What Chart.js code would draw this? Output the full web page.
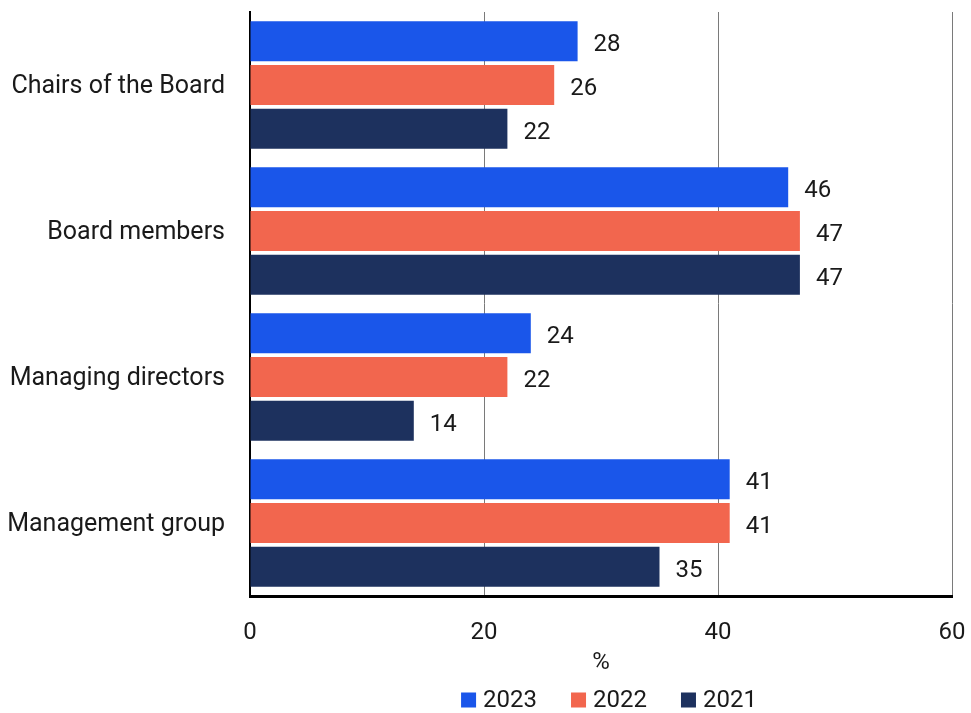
<!DOCTYPE html>
<html>
<head>
<meta charset="utf-8">
<script src="https://cdn.jsdelivr.net/npm/chart.js@4/dist/chart.umd.min.js"></script>
<style>
  html, body { margin: 0; padding: 0; background: #fff; }
  #wrap { width: 971px; height: 713px; }
</style>
</head>
<body>
<div id="wrap"><canvas id="roleChart" width="971" height="713"></canvas></div>
<script>
const categories = ["Chairs of the Board", "Board members", "Managing directors", "Management group"];
const seriesNames = ["2023", "2022", "2021"];
const values2023 = [28, 46, 24, 41];
const values2022 = [26, 47, 22, 41];
const values2021 = [22, 47, 14, 35];
const xTicks = [0, 20, 40, 60];

const colors = ["#1a56ea", "#f2664e", "#1d315e"];
const FONT = "Roboto";
const TEXT = "#1a1a1a";

// value at the end of each bar
const barValues = {
    id: "barValues",
    afterDatasetsDraw(chart) {
        const ctx = chart.ctx;
        ctx.save();
        ctx.font = `24px ${FONT}`;
        ctx.fillStyle = TEXT;
        ctx.textAlign = "left";
        ctx.textBaseline = "middle";
        chart.data.datasets.forEach((ds, i) => {
            chart.getDatasetMeta(i).data.forEach((bar, j) => {
                ctx.fillText(ds.data[j], bar.x + 16, bar.y + 4);
            });
        });
        ctx.restore();
    }
};

// legend row under the axis title
const bottomLegend = {
    id: "bottomLegend",
    afterDraw(chart) {
        const ctx = chart.ctx;
        const area = chart.chartArea;
        ctx.save();
        ctx.font = `24px ${FONT}`;
        ctx.textBaseline = "middle";
        ctx.textAlign = "left";
        const box = 15, gap = 7, spacing = 34;
        const items = chart.data.datasets.map(ds => ({
            text: ds.label, color: ds.backgroundColor, w: ctx.measureText(ds.label).width
        }));
        let total = items.reduce((s, it) => s + box + gap + it.w, 0) + spacing * (items.length - 1);
        let x = (area.left + area.right) / 2 - total / 2 + 8;
        const cy = 700;
        items.forEach(it => {
            ctx.fillStyle = it.color;
            ctx.fillRect(x, cy - box / 2, box, box);
            ctx.fillStyle = TEXT;
            ctx.fillText(it.text, x + box + gap, cy + 1);
            x += box + gap + it.w + spacing;
        });
        ctx.restore();
    }
};

const ctx = document.getElementById("roleChart").getContext("2d");

new Chart(ctx, {
    type: "bar",
    data: {
        labels: categories,
        datasets: [
            { label: seriesNames[0], data: values2023, backgroundColor: colors[0] },
            { label: seriesNames[1], data: values2022, backgroundColor: colors[1] },
            { label: seriesNames[2], data: values2021, backgroundColor: colors[2] }
        ]
    },
    options: {
        indexAxis: "y",
        responsive: false,
        animation: false,
        categoryPercentage: 0.9,
        barPercentage: 0.91,
        layout: { padding: { top: 12, right: 19, bottom: 26, left: 0 } },
        plugins: {
            legend: { display: false },
            tooltip: { enabled: false }
        },
        scales: {
            x: {
                min: 0,
                max: 60,
                afterBuildTicks: scale => { scale.ticks = xTicks.map(v => ({ value: v })); },
                afterFit: scale => {
                    scale.height = 91;
                    scale.paddingLeft = 0;
                    scale.paddingRight = 0;
                },
                grid: { color: "#7a7a7a", lineWidth: 1, drawTicks: false },
                border: { color: "#000", width: 3 },
                ticks: { color: TEXT, font: { family: FONT, size: 24 }, padding: 23, maxRotation: 0 },
                title: {
                    display: true,
                    text: "%",
                    color: TEXT,
                    font: { family: FONT, size: 24 },
                    padding: { top: 0, bottom: 10 }
                }
            },
            y: {
                afterFit: scale => {
                    scale.width = 250;
                    scale.paddingTop = 0;
                    scale.paddingBottom = 0;
                },
                grid: { display: false, drawTicks: false },
                border: { color: "#000", width: 2 },
                ticks: { color: TEXT, font: { family: FONT, size: 25 }, padding: 25, labelOffset: 2 }
            }
        }
    },
    plugins: [barValues, bottomLegend]
});
</script>
</body>
</html>
